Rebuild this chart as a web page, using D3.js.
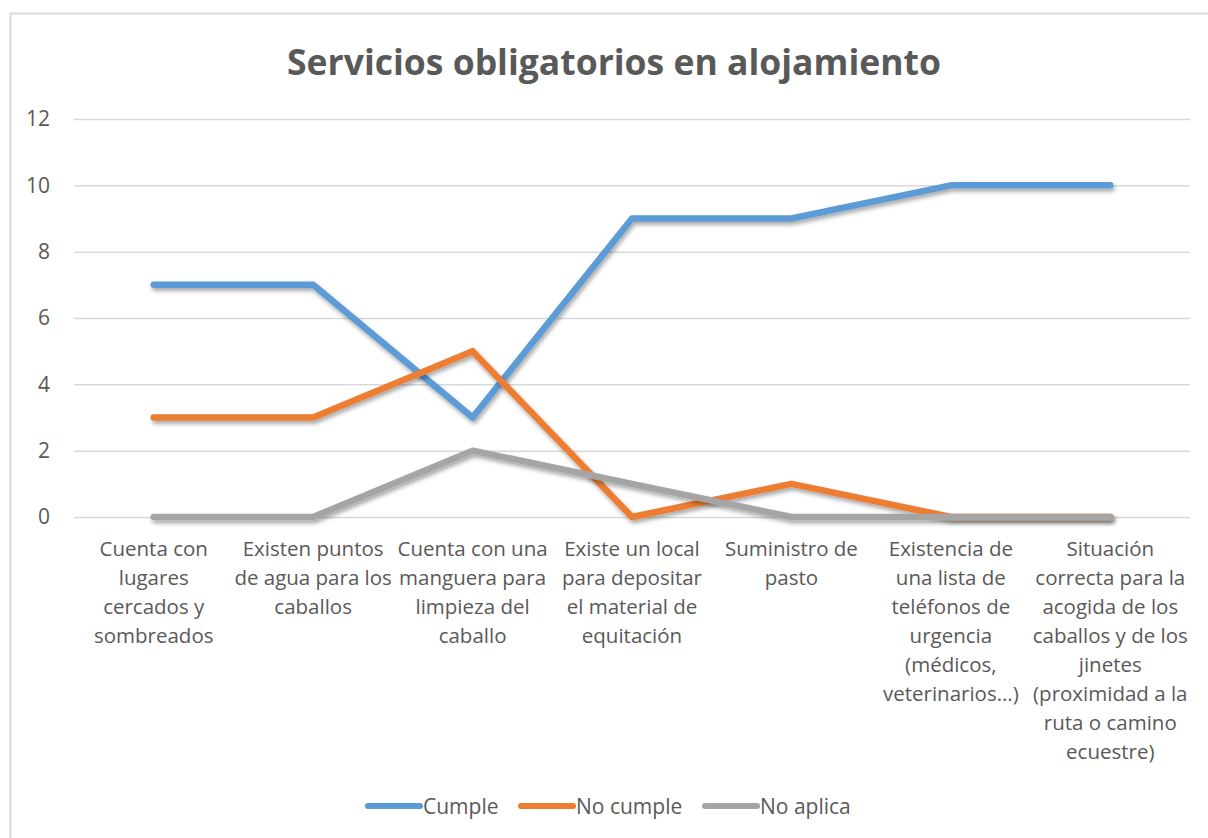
<!DOCTYPE html>
<html>

<head>
  <script src="https://d3js.org/d3.v7.min.js"></script>
  <style>
    body { margin: 0; background: #fff; }
    text { font-family: "Open Sans", sans-serif; fill: #595959; }
  </style>
</head>

<body>
  <svg id="chart" height="838" width="1208"></svg>
  <script>
    // data
    const categories = [
      "Cuenta con\nlugares\ncercados y\nsombreados",
      "Existen puntos\nde agua para los\ncaballos",
      "Cuenta con una\nmanguera para\nlimpieza del\ncaballo",
      "Existe un local\npara depositar\nel material de\nequitación",
      "Suministro de\npasto",
      "Existencia de\nuna lista de\nteléfonos de\nurgencia\n(médicos,\nveterinarios…)",
      "Situación\ncorrecta para la\nacogida de los\ncaballos y de los\njinetes\n(proximidad a la\nruta o camino\necuestre)"
    ];
    const seriesNames = ["Cumple", "No cumple", "No aplica"];
    const cumple = [7, 7, 3, 9, 9, 10, 10];
    const noCumple = [3, 3, 5, 0, 1, 0, 0];
    const noAplica = [0, 0, 2, 1, 0, 0, 0];
    const yTicks = [0, 2, 4, 6, 8, 10, 12];
    const colors = ["#5B9BD5", "#ED7D31", "#A5A5A5"];

    const series = [cumple, noCumple, noAplica].map((vals, i) => ({ name: seriesNames[i], values: vals, color: colors[i] }));

    let svg = d3.select('svg#chart');
    const margins = { top: 119, left: 74, right: 18, bottom: 321 };
    const width = +svg.attr('width');
    const height = +svg.attr('height');
    const chartWidth = width - margins.left - margins.right;
    const chartHeight = height - margins.top - margins.bottom;

    // chart border
    svg.append('rect')
      .attr('x', 10.5).attr('y', 13.5)
      .attr('width', 1220).attr('height', 860)
      .attr('fill', 'none').attr('stroke', '#d9d9d9').attr('stroke-width', 2);

    // drop shadow for lines
    let defs = svg.append('defs');
    let filter = defs.append('filter').attr('id', 'shadow')
      .attr('x', '-10%').attr('y', '-10%').attr('width', '120%').attr('height', '130%');
    filter.append('feDropShadow')
      .attr('dx', 1.5).attr('dy', 3).attr('stdDeviation', 2)
      .attr('flood-color', '#000').attr('flood-opacity', 0.35);

    const xScale = d3.scaleBand().domain(d3.range(categories.length)).range([0, chartWidth]);
    const yScale = d3.scaleLinear().domain([0, 12]).range([chartHeight, 0]);

    let chartArea = svg.append('g')
      .attr('transform', `translate(${margins.left},${margins.top})`);

    // gridlines
    let gridlines = d3.axisLeft(yScale).tickValues(yTicks).tickSize(-chartWidth).tickFormat("");
    let grid = chartArea.append('g').attr('class', 'hgridlines').call(gridlines);
    grid.select('.domain').remove();
    grid.selectAll('line').attr('stroke', '#d9d9d9').attr('stroke-width', 1.5);

    // y axis labels
    let leftAxis = d3.axisLeft(yScale).tickValues(yTicks).tickSize(0).tickPadding(24);
    let yAxis = chartArea.append('g').attr('class', 'y axis').call(leftAxis);
    yAxis.select('.domain').remove();
    yAxis.selectAll('text')
      .attr('fill', '#595959')
      .style('font-size', '21px');

    // x axis labels
    let xLabels = chartArea.append('g').attr('class', 'x axis')
      .selectAll('text').data(categories)
      .join('text')
      .attr('x', (d, i) => xScale(i) + xScale.bandwidth() / 2)
      .attr('y', chartHeight + 39)
      .style('text-anchor', 'middle')
      .style('font-size', '20.5px');
    xLabels.each(function (d) {
      d3.select(this).selectAll('tspan').data(d.split('\n'))
        .join('tspan')
        .attr('x', d3.select(this).attr('x'))
        .attr('dy', (l, j) => j == 0 ? 0 : 29)
        .text(l => l);
    });

    // lines
    const line = d3.line()
      .x((d, i) => xScale(i) + xScale.bandwidth() / 2)
      .y(d => yScale(d));
    chartArea.selectAll('path.series').data(series)
      .join('path')
      .attr('class', 'series')
      .attr('d', d => line(d.values))
      .attr('fill', 'none')
      .attr('stroke', d => d.color)
      .attr('stroke-width', 6.5)
      .attr('stroke-linejoin', 'round')
      .attr('stroke-linecap', 'round')
      .attr('filter', 'url(#shadow)');

    // title
    svg.append('text')
      .attr('x', 614)
      .attr('y', 75)
      .style('text-anchor', 'middle')
      .style('font-size', '35.5px')
      .style('font-weight', 'bold')
      .text("Servicios obligatorios en alojamiento");

    // legend
    const legendX = [368, 521, 705];
    let legend = svg.append('g').attr('transform', 'translate(0,806)');
    let items = legend.selectAll('.legend').data(series)
      .join('g')
      .attr('class', 'legend')
      .attr('transform', (d, i) => `translate(${legendX[i]},0)`);
    items.append('line')
      .attr('x1', 0).attr('x2', 52)
      .attr('stroke', d => d.color)
      .attr('stroke-width', 6)
      .attr('stroke-linecap', 'round');
    items.append('text')
      .attr('x', 55)
      .attr('y', 7.5)
      .style('font-size', '21px')
      .text(d => d.name);
  </script>
</body>

</html>
